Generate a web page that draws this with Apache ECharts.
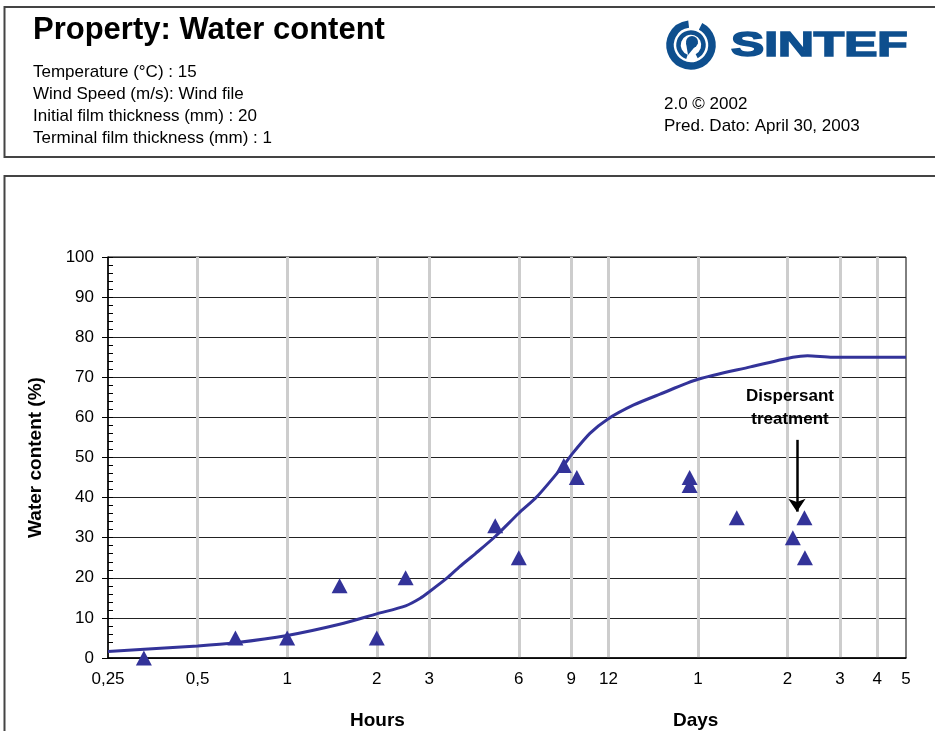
<!DOCTYPE html>
<html>
<head>
<meta charset="utf-8">
<title>Property: Water content</title>
<script src="https://cdn.jsdelivr.net/npm/echarts@6/dist/echarts.min.js"></script>
<style>
  html, body { margin: 0; padding: 0; background: #fff; }
  #chart { width: 935px; height: 731px; }
</style>
</head>
<body>
<div id="chart"></div>
<script>
// predicted water uptake (line), hours on a log axis
const curveHours = [0.25, 0.5, 0.67, 1, 1.5, 2, 2.5, 2.8, 3, 3.44, 3.8, 4.3, 5, 6, 6.9, 8.5, 9, 10.4, 11.9, 14.6, 17.9, 24, 36, 50, 56, 68, 120];
const curveWater = [1.6, 3.0, 3.8, 5.6, 8.4, 11.0, 13.0, 14.9, 16.5, 19.9, 22.8, 26.1, 30.3, 36.1, 40.2, 48.1, 50.6, 56.0, 59.5, 63.1, 65.8, 69.5, 72.6, 75.0, 75.4, 75.0, 75.0];

// field observations (triangles)
const obsHours = [0.33, 0.67, 1, 1.5, 2, 2.5, 5, 6, 8.5, 9.4, 22.5, 22.5, 32.4, 50, 54.7, 54.9];
const obsWater = [0, 5, 5, 18, 5, 20, 33, 25, 48, 45, 45, 43, 35, 30, 35, 25];

const tickHours = [0.25, 0.5, 1, 2, 3, 6, 9, 12, 24, 48, 72, 96, 120];
const tickLabels = ['0,25', '0,5', '1', '2', '3', '6', '9', '12', '1', '2', '3', '4', '5'];
const gridHours = [0.5, 1, 2, 3, 6, 9, 12, 24, 48, 72, 96];

// dispersant arrow: [hours, top %, tip %]
const arrowAt = [51.6, 54.4, 36.5];

const headerLines = [
  'Temperature (°C) : 15',
  'Wind Speed (m/s): Wind file',
  'Initial film thickness (mm) : 20',
  'Terminal film thickness (mm) : 1',
];
const versionLines = ['2.0 © 2002', 'Pred. Dato: April 30, 2003'];

const FONT = "'Liberation Sans', Arial, sans-serif";
const BLUE = '#333399';
const LOGO = '#0e4f8e';

function tickText(v) {
  for (let i = 0; i < tickHours.length; i++) {
    if (Math.abs(v - tickHours[i]) < 1e-6 * tickHours[i] + 1e-9) return tickLabels[i];
  }
  return '';
}

const chart = echarts.init(document.getElementById('chart'), null, { renderer: 'canvas' });

const graphics = [
  { type: 'rect', shape: { x: 4.5, y: 7, width: 940, height: 150 }, style: { fill: 'none', stroke: '#444', lineWidth: 2 } },
  { type: 'rect', shape: { x: 4.5, y: 176, width: 940, height: 570 }, style: { fill: 'none', stroke: '#444', lineWidth: 2 } },
  { type: 'text', x: 33, y: 30, style: { text: 'Property: Water content', font: 'bold 31px ' + FONT, fill: '#000', verticalAlign: 'middle' } },
  { type: 'text', x: 350, y: 721, style: { text: 'Hours', font: 'bold 19px ' + FONT, fill: '#000', verticalAlign: 'middle' } },
  { type: 'text', x: 673, y: 721, style: { text: 'Days', font: 'bold 19px ' + FONT, fill: '#000', verticalAlign: 'middle' } },
  { type: 'text', x: 790, y: 408, z: 10, style: { text: 'Dispersant\ntreatment', font: 'bold 17px ' + FONT, lineHeight: 23, fill: '#000', align: 'center', verticalAlign: 'middle' } },
  // logo
  { type: 'arc', shape: { cx: 691, cy: 45, r: 21, startAngle: -1.1, endAngle: 4.6 }, style: { fill: 'none', stroke: LOGO, lineWidth: 7.5 } },
  { type: 'arc', shape: { cx: 691, cy: 45, r: 12.5, startAngle: 1.9, endAngle: 1.3 + Math.PI * 2 - 0.2 }, style: { fill: 'none', stroke: LOGO, lineWidth: 4.5 } },
  { type: 'circle', shape: { cx: 692, cy: 42, r: 6 }, style: { fill: LOGO } },
  { type: 'polygon', shape: { points: [[686, 43], [698, 43], [688, 55]] }, style: { fill: LOGO } },
  { type: 'text', x: 731, y: 46, scaleX: 1.42, style: { text: 'SINTEF', font: 'bold 35px ' + FONT, fill: LOGO, stroke: LOGO, lineWidth: 1.6, verticalAlign: 'middle' } },
];
headerLines.forEach((t, i) => {
  graphics.push({ type: 'text', x: 33, y: 72 + i * 22, style: { text: t, font: '17px ' + FONT, fill: '#000', verticalAlign: 'middle' } });
});
versionLines.forEach((t, i) => {
  graphics.push({ type: 'text', x: 664, y: 104 + i * 22, style: { text: t, font: '17px ' + FONT, fill: '#000', verticalAlign: 'middle' } });
});

const option = {
  animation: false,
  backgroundColor: '#fff',
  grid: {
    left: 108, right: 29, top: 257, bottom: 73,
    show: true, borderColor: '#000', borderWidth: 1, backgroundColor: 'transparent',
  },
  xAxis: {
    type: 'log',
    logBase: 2,
    min: 0.25,
    max: 120,
    axisLine: { show: true, lineStyle: { color: '#000', width: 1.5 } },
    axisTick: { show: false, customValues: gridHours },
    axisLabel: {
      customValues: tickHours,
      formatter: tickText,
      color: '#000',
      fontFamily: FONT,
      fontSize: 17,
      margin: 13,
    },
    splitLine: { show: true, lineStyle: { color: '#cdcdcd', width: 3 } },
    minorTick: { show: false },
  },
  yAxis: [
    {
      type: 'value',
      min: 0, max: 100, interval: 10,
      name: 'Water content (%)',
      nameLocation: 'middle',
      nameGap: 63,
      nameTextStyle: { color: '#000', fontFamily: FONT, fontSize: 19, fontWeight: 'bold' },
      axisLine: { show: true, lineStyle: { color: '#000', width: 1.5 } },
      axisTick: { show: true, length: 6, lineStyle: { color: '#000' } },
      axisLabel: { color: '#000', fontFamily: FONT, fontSize: 17, margin: 14 },
      splitLine: { show: true, lineStyle: { color: '#222', width: 1 } },
    },
    {
      type: 'value',
      min: 0, max: 100, interval: 2,
      position: 'left',
      axisLine: { show: false },
      axisTick: { show: true, inside: true, length: 5, lineStyle: { color: '#000' } },
      axisLabel: { show: false },
      splitLine: { show: false },
    },
  ],
  series: [
    {
      name: 'Predicted',
      type: 'line',
      data: curveHours.map((h, i) => [h, curveWater[i]]),
      showSymbol: false,
      smooth: 0.25,
      lineStyle: { color: BLUE, width: 3 },
      itemStyle: { color: BLUE },
      z: 3,
    },
    {
      name: 'Observed',
      type: 'scatter',
      data: obsHours.map((h, i) => [h, obsWater[i]]),
      symbol: 'triangle',
      symbolSize: [16, 15],
      itemStyle: { color: BLUE, opacity: 1 },
      z: 4,
      markLine: {
        silent: true,
        symbol: ['none', 'arrow'],
        symbolSize: 13,
        label: { show: false },
        lineStyle: { color: '#000', width: 2.5, type: 'solid', opacity: 1 },
        data: [[
          { coord: [arrowAt[0], arrowAt[1]] },
          { coord: [arrowAt[0], arrowAt[2]] },
        ]],
      },
    },
  ],
  graphic: graphics,
};

chart.setOption(option);
</script>
</body>
</html>
